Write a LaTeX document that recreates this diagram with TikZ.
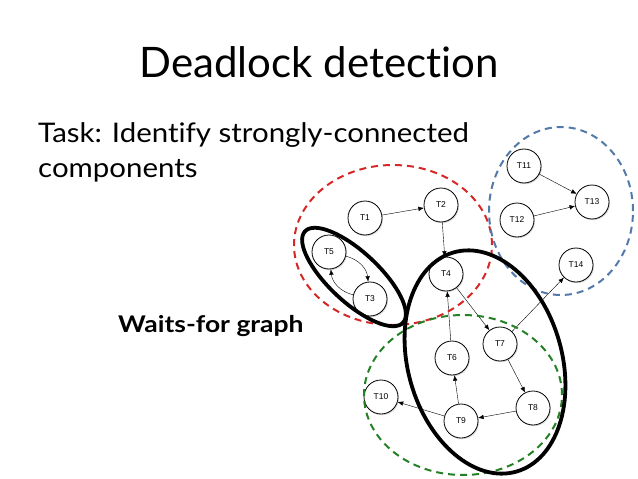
\documentclass[tikz,border=0pt]{standalone}
\usepackage{fontspec}
\setmainfont{Lato}[Ligatures=NoCommon]
\newfontfamily\taskfont{Lato}[Ligatures=NoCommon, FakeStretch=1.09]
\newfontfamily\wfgfont{Lato}[Ligatures=NoCommon, FakeStretch=1.15]
\newfontfamily\nodefont{Liberation Sans}
\usetikzlibrary{arrows.meta,shadows}
\definecolor{grpred}{RGB}{214,38,38}
\definecolor{grpgreen}{RGB}{36,128,36}
\definecolor{grpblue}{RGB}{84,122,170}

\begin{document}
\begin{tikzpicture}[x=1pt, y=1pt,
        txn/.style={draw, line width=0.8pt, circle, fill=white, minimum size=34pt, inner sep=0pt,
            font=\nodefont\fontsize{8.5}{9}\selectfont,
            drop shadow={opacity=0.3, shadow xshift=1pt, shadow yshift=-1.2pt}},
        scc/.style={line width=3.8pt},
        group/.style={line width=2pt, dash pattern=on 7pt off 5pt},
        >={Latex[length=5.5pt, width=4.5pt]}]
            \useasboundingbox (0,0) rectangle (638,-479);

            % Labels
            \node[font=\fontsize{42}{48}\selectfont, anchor=base] (title) at (319,-77) {Deadlock detection};
            \node[font=\taskfont\fontsize{27}{35}\selectfont, anchor=north west, align=left, inner sep=0pt] (task) at (38,-122) {Task: Identify strongly-connected\\components};
            \node[font=\wfgfont\bfseries\fontsize{23}{28}\selectfont, anchor=base west, inner sep=0pt] (wfg) at (118,-332) {Waits-for graph};

            % Nodes
            \node[txn] (t1) at (365,-218) {T1};
            \node[txn] (t2) at (441,-205) {T2};
            \node[txn] (t5) at (329,-252) {T5};
            \node[txn] (t3) at (370,-299) {T3};
            \node[txn] (t4) at (446,-274) {T4};

            \node[txn] (t6) at (452,-358) {T6};
            \node[txn] (t7) at (500,-344) {T7};
            \node[txn] (t8) at (533,-408) {T8};
            \node[txn] (t9) at (461,-421) {T9};
            \node[txn] (t10) at (381,-397) {T10};

            \node[txn] (t11) at (524,-166) {T11};
            \node[txn] (t12) at (517,-220) {T12};
            \node[txn] (t13) at (592,-202) {T13};
            \node[txn] (t14) at (576,-265) {T14};

            % Arrows
            \draw[->] (t1) -- (t2);
            \draw[->] (t2) -- (t4);
            \draw[->] (t5) to[bend left=35] (t3);
            \draw[->] (t3) to[bend left=35] (t5);

            \draw[->] (t4) -- (t7);
            \draw[->] (t6) -- (t4);
            \draw[->] (t7) -- (t14);
            \draw[->] (t7) -- (t8);
            \draw[->] (t8) -- (t9);
            \draw[->] (t9) -- (t6);
            \draw[->] (t9) -- (t10);

            \draw[->] (t11) -- (t13);
            \draw[->] (t12) -- (t13);

            % Groups
            \draw[group, grpred] (393,-245) ellipse [x radius=99, y radius=80];
            \draw[group, grpblue] (561,-211) ellipse [x radius=72, y radius=84];
            \draw[group, grpgreen] (463,-395) ellipse [x radius=99, y radius=80];

            % Strongly-connected components
            \draw[scc, rotate around={-43:(354,-277)}] (354,-277) ellipse [x radius=67, y radius=25];
            \draw[scc, rotate around={16:(485,-362)}] (485,-362) ellipse [x radius=77, y radius=114];
        \end{tikzpicture}
\end{document}
